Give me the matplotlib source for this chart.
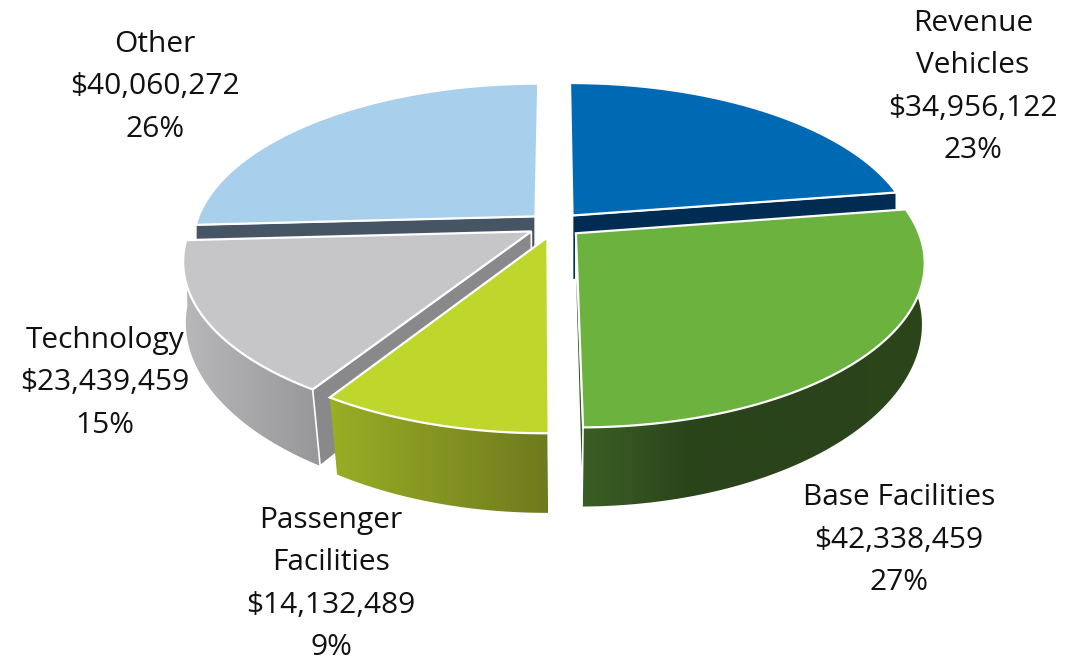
import numpy as np
import matplotlib
matplotlib.use("Agg")
import matplotlib.pyplot as plt
from matplotlib.colors import LinearSegmentedColormap
from matplotlib.patches import Polygon

plt.rcParams['font.family'] = ['Open Sans', 'DejaVu Sans']

# data, clockwise from 12 o'clock
names = ["Revenue\nVehicles", "Base Facilities", "Passenger\nFacilities", "Technology", "Other"]
values = [34956122, 42338459, 14132489, 23439459, 40060272]
percents = [23, 27, 9, 15, 26]

top_colors = ["#0069b4", "#6bb23f", "#bfd62c", "#c6c6c8", "#a8cfec"]
cut_colors = ["#002b52", "#2f5a1e", "#8e9c22", "#89898b", "#465563"]
side_colors = [
    ["#003a66", "#002b52"],
    ["#3a5f25", "#2a431a", "#2a431a", "#2c451b"],
    ["#9aae25", "#6e7a1e"],
    ["#b8b8ba", "#979799"],
    ["#465563", "#465563"],
]
label_pos = [(973, 87), (899, 540), (331, 584), (105, 383), (155, 87)]

# projection of the tilted disc
CX, CY = 555, 225
RX, RY = 340, 158
PERSP = 0.17
DEPTH = 65
SHRINK = 0.035
EXPLODE = 0.08


def project(u, v, low=False):
    w = 1 + PERSP * v
    x = CX + RX * u / w
    y = CY - RY * v / w
    if low:
        # lower rim pulls in towards the front
        x = CX + (x - CX) * (1 - SHRINK * np.maximum(-v, 0))
        y = y + DEPTH / w
    return x, y


def face(ax, xs, ys, color, **kw):
    p = Polygon(np.column_stack([xs, ys]), closed=True, facecolor=color, **kw)
    ax.add_patch(p)
    return p


def gradient_face(ax, xs, ys, colors, z):
    p = Polygon(np.column_stack([xs, ys]), closed=True, facecolor="none", edgecolor="none", zorder=z)
    ax.add_patch(p)
    cmap = LinearSegmentedColormap.from_list("side", colors)
    im = ax.imshow(np.linspace(0, 1, 256)[None, :], cmap=cmap, aspect="auto", zorder=z,
                   extent=(xs.min(), xs.max(), ys.max(), ys.min()))
    im.set_clip_path(p)


fig = plt.figure(figsize=(10.84, 6.6), dpi=100)
ax = fig.add_axes([0, 0, 1, 1])

shares = np.array(values) / sum(values)
edges = np.pi / 2 - 2 * np.pi * np.concatenate([[0], np.cumsum(shares)])

# back slices first
for z, i in enumerate([0, 4, 3, 2, 1]):
    a0, a1 = edges[i], edges[i + 1]
    mid = (a0 + a1) / 2
    ou, ov = EXPLODE * np.cos(mid), EXPLODE * np.sin(mid)
    t = np.linspace(a0, a1, 200)
    u = ou + np.cos(t)
    v = ov + np.sin(t)
    base = z * 10

    # outer wall
    xt, yt = project(u, v)
    xb, yb = project(u, v, low=True)
    gradient_face(ax, np.r_[xt, xb[::-1]], np.r_[yt, yb[::-1]], side_colors[i], base + 1)

    # cut walls, only the ones turned to the viewer
    xa, ya = project(ou, ov)
    xc, yc = project(ou, ov, low=True)
    if np.cos(a0) < 0.01:
        face(ax, [xa, xt[0], xb[0], xc], [ya, yt[0], yb[0], yc], cut_colors[i],
             edgecolor="white", linewidth=1.2, zorder=base + 2)
    if np.cos(a1) > -0.01:
        face(ax, [xa, xt[-1], xb[-1], xc], [ya, yt[-1], yb[-1], yc], cut_colors[i],
             edgecolor="white", linewidth=1.2, zorder=base + 2)

    # top face
    face(ax, np.r_[xa, xt], np.r_[ya, yt], top_colors[i],
         edgecolor="white", linewidth=1.6, joinstyle="miter", zorder=base + 3)

for name, val, pct, pos in zip(names, values, percents, label_pos):
    ax.text(pos[0], pos[1], f"{name}\n${val:,}\n{pct}%", ha="center", va="center",
            fontsize=21.5, color="#111111", linespacing=1.6, zorder=100)

ax.set_xlim(0, 1084)
ax.set_ylim(660, 0)
ax.axis("off")
fig.savefig("out.png", dpi=100, facecolor="white")
